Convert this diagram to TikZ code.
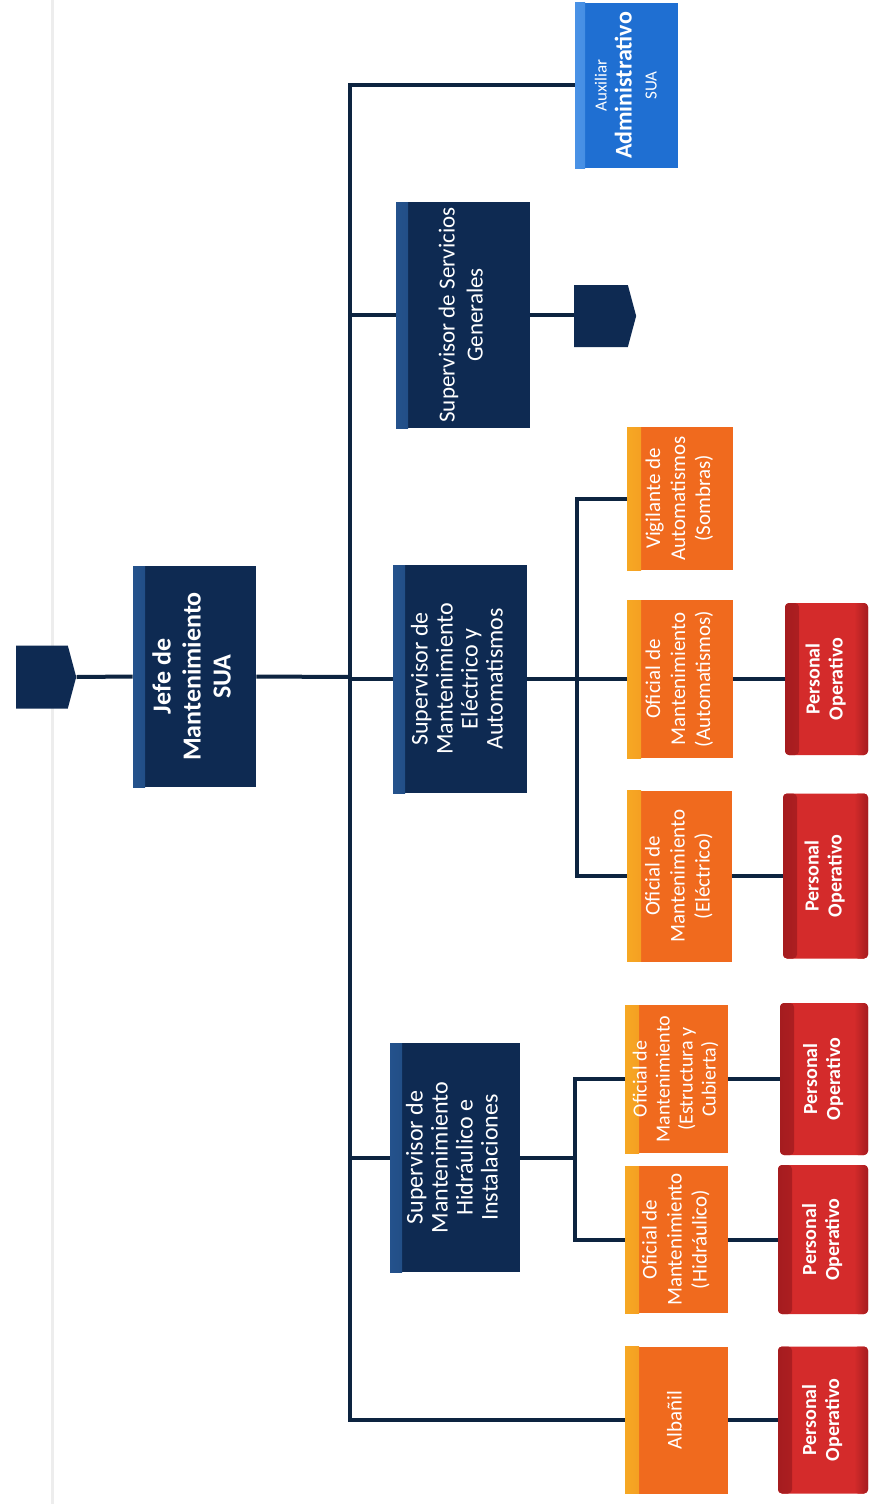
\documentclass[tikz,border=0pt]{standalone}
\usepackage{fontspec}
\setmainfont{Carlito}
\usepackage{graphicx}
\usetikzlibrary{shapes.symbols}
\definecolor{navy}{HTML}{0E2A52}
\definecolor{navyL}{HTML}{24528C}
\definecolor{lineC}{HTML}{0D2440}
\definecolor{orng}{HTML}{F06A1E}
\definecolor{orngL}{HTML}{F6A823}
\definecolor{redC}{HTML}{D42B2B}
\definecolor{redD}{HTML}{A51C1F}
\definecolor{blueC}{HTML}{1F6FD2}
\definecolor{blueL}{HTML}{4A92E6}
\newcommand{\rt}[1]{\rotatebox{90}{\begin{tabular}{@{}c@{}}#1\end{tabular}}}
\tikzset{
  orgbox/.style={rectangle, inner sep=0pt, text=white,
    font=\fontsize{10.5}{12.5}\selectfont},
  sz/.style 2 args={minimum width=#1*0.5pt, minimum height=#2*0.5pt},
  navybox/.style={orgbox, fill=navy,
    path picture={\shade[left color=navyL, right color=navy]
      (path picture bounding box.south west) rectangle ([xshift=6pt]path picture bounding box.north west);}},
  bluebox/.style={orgbox, fill=blueC,
    path picture={\shade[left color=blueL, right color=blueC]
      (path picture bounding box.south west) rectangle ([xshift=5pt]path picture bounding box.north west);}},
  orangebox/.style={orgbox, fill=orng,
    path picture={\shade[left color=orngL, right color=orng]
      (path picture bounding box.south west) rectangle ([xshift=7pt]path picture bounding box.north west);}},
  redbox/.style={orgbox, fill=redC, rounded corners=2pt,
    font=\bfseries\fontsize{10}{11.5}\selectfont,
    path picture={\shade[left color=redD, right color=redC]
      (path picture bounding box.south west) rectangle ([xshift=7pt]path picture bounding box.north west);
      \shade[left color=redC, right color=redD]
      ([xshift=-7pt]path picture bounding box.south east) rectangle (path picture bounding box.north east);}},
  offpage/.style={signal, signal to=east, signal pointer angle=150, inner sep=0pt,
    fill=navy, draw=none},
  link/.style={draw=lineC, line width=2pt, line join=miter}
}
\begin{document}
\begin{tikzpicture}[x=0.5pt, y=-0.5pt]
\fill[white] (0,0) rectangle (870,1504);
\useasboundingbox (0,0) rectangle (870,1504);
\draw[black!7, line width=1.5pt] (52,0) -- (52,1504);

% top level
\node[offpage, sz={60}{63}] (c0) at (42,677) {};
\node[navybox, sz={123}{221}, font=\bfseries\fontsize{13}{15}\selectfont] (jefe) at (194.5,676.5)
  {\rt{Jefe de\\Mantenimiento\\SUA}};

% supervisors
\node[bluebox, sz={103}{165}] (aux) at (626.5,85.5)
  {\rt{{\fontsize{8.5}{10}\selectfont Auxiliar}\\{\bfseries\fontsize{12}{12.5}\selectfont Administrativo}\\{\fontsize{8.5}{9}\selectfont SUA}}};
\node[navybox, sz={134}{226}, font=\fontsize{11.5}{14}\selectfont] (serv) at (463,315)
  {\rt{Supervisor de Servicios\\Generales}};
\node[offpage, sz={62}{62}] (c1) at (601,316) {};
\node[navybox, sz={134}{228}, font=\fontsize{12}{12.5}\selectfont] (elec) at (460,679)
  {\rt{Supervisor de\\Mantenimiento\\Eléctrico y\\Automatismos}};
\node[navybox, sz={130}{229}, font=\fontsize{12}{12.5}\selectfont] (hidr) at (455,1157.5)
  {\rt{Supervisor de\\Mantenimiento\\Hidráulico e\\Instalaciones}};

% electrical branch
\node[orangebox, sz={106}{143}] (vig) at (680,498.5)
  {\rt{Vigilante de\\Automatismos\\(Sombras)}};
\node[orangebox, sz={106}{158}] (ofaut) at (680,679)
  {\rt{Oficial de\\Mantenimiento\\(Automatismos)}};
\node[orangebox, sz={105}{171}] (ofele) at (679.5,876)
  {\rt{Oficial de\\Mantenimiento\\(Eléctrico)}};
\node[redbox, sz={83}{152}] (pa1) at (826.5,679) {\rt{Personal\\Operativo}};
\node[redbox, sz={85}{165}] (pa2) at (825.5,876) {\rt{Personal\\Operativo}};

% hydraulic branch
\node[orangebox, sz={103}{148}, font=\fontsize{10}{11.5}\selectfont] (ofest) at (676.5,1079)
  {\rt{Oficial de\\Mantenimiento\\(Estructura y\\Cubierta)}};
\node[orangebox, sz={103}{147}] (ofhid) at (676.5,1239.5)
  {\rt{Oficial de\\Mantenimiento\\(Hidráulico)}};
\node[orangebox, sz={103}{147}] (alb) at (676.5,1420)
  {\rt{Albañil}};
\node[redbox, sz={88}{152}] (pa3) at (824,1079) {\rt{Personal\\Operativo}};
\node[redbox, sz={90}{149}] (pa4) at (823,1239.5) {\rt{Personal\\Operativo}};
\node[redbox, sz={90}{147}] (pa5) at (823,1420) {\rt{Personal\\Operativo}};

% junction points
\coordinate (t) at (350,677);
\coordinate (te) at (577,679);
\coordinate (th) at (575,1157.5);

% connectors
\draw[link] (c0.east) -- (jefe.west);
\draw[link] (jefe.east) -- (t);
\draw[link] (aux.west) -| (t);
\draw[link] (serv.west) -| (t);
\draw[link] (t) -- (t |- elec.west) -- (elec.west);
\draw[link] (hidr.west) -| (t);
\draw[link] (alb.west) -| (t);
\draw[link] (serv.east) -- (serv.east -| c1.west);

\draw[link] (elec.east) -- (ofaut.west);
\draw[link] (vig.west) -| (te);
\draw[link] (ofele.west) -| (te);
\draw[link] (ofaut.east) -- (pa1.west);
\draw[link] (ofele.east) -- (pa2.west);

\draw[link] (hidr.east) -- (th);
\draw[link] (ofest.west) -| (th);
\draw[link] (ofhid.west) -| (th);
\draw[link] (ofest.east) -- (pa3.west);
\draw[link] (ofhid.east) -- (pa4.west);
\draw[link] (alb.east) -- (pa5.west);
\end{tikzpicture}
\end{document}
